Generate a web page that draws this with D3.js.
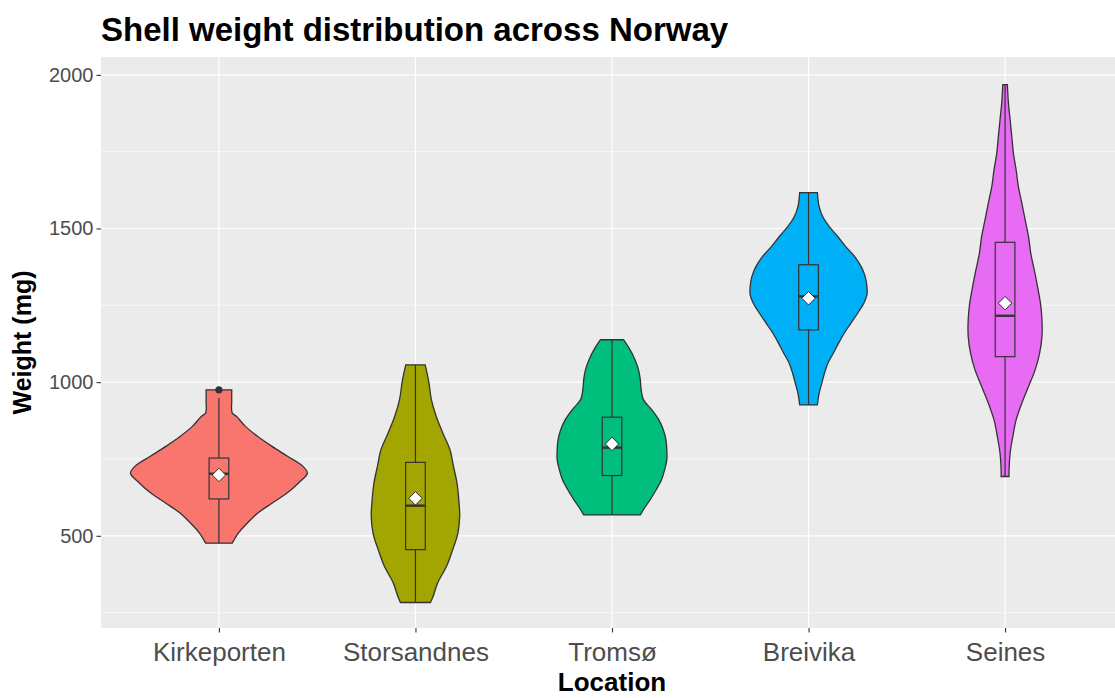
<!DOCTYPE html>
<html>
<head>
<meta charset="utf-8">
<script src="https://cdn.jsdelivr.net/npm/d3@7"></script>
<style>
  body { margin: 0; background: #fff; }
  text { font-family: "Liberation Sans", Arial, sans-serif; }
</style>
</head>
<body>
<script>
// categories + fill colours (ggplot default hue)
var locations = ["Kirkeporten", "Storsandnes", "Tromsø", "Breivika", "Seines"];
var fills = ["#F8766D", "#A3A500", "#00BF7D", "#00B0F6", "#E76BF3"];

// violin outlines: [weight, density relative to widest]
var kirkeportenDensity = [[476,0.15],[509,0.22],[541,0.32],[574,0.44],[606,0.60],[639,0.77],[672,0.90],[704,1.0],[726,0.95],[758,0.78],[791,0.60],[823,0.44],[856,0.30],[888,0.20],[900,0.15],[940,0.145],[975,0.145]];
var storsandnesDensity = [[283,0.17],[303,0.20],[346,0.25],[400,0.35],[454,0.42],[509,0.48],[563,0.50],[617,0.49],[671,0.47],[726,0.43],[780,0.39],[834,0.31],[888,0.235],[943,0.18],[1002,0.15],[1056,0.11]];
var tromsoDensity = [[568,0.32],[585,0.355],[617,0.43],[650,0.50],[682,0.56],[715,0.595],[747,0.62],[780,0.62],[812,0.61],[845,0.58],[877,0.53],[910,0.45],[943,0.355],[975,0.33],[1008,0.32],[1040,0.30],[1073,0.26],[1105,0.205],[1138,0.13]];
var breivikaDensity = [[926,0.10],[964,0.12],[997,0.15],[1029,0.18],[1062,0.22],[1094,0.28],[1127,0.34],[1160,0.405],[1192,0.48],[1225,0.557],[1257,0.625],[1284,0.66],[1311,0.66],[1344,0.64],[1376,0.595],[1409,0.52],[1441,0.42],[1474,0.33],[1506,0.235],[1539,0.16],[1571,0.12],[1617,0.10]];
var seinesDensity = [[693,0.045],[715,0.045],[769,0.057],[823,0.0875],[877,0.125],[932,0.19],[986,0.265],[1040,0.34],[1094,0.39],[1148,0.417],[1203,0.417],[1257,0.40],[1311,0.367],[1365,0.33],[1420,0.29],[1474,0.265],[1528,0.227],[1582,0.19],[1637,0.15],[1691,0.125],[1745,0.094],[1799,0.076],[1854,0.057],[1908,0.038],[1968,0.026]];

// boxplot stats: [lower whisker, q1, median, q3, upper whisker]
var boxStats = [
  [476, 620, 702, 753, 948],
  [283, 455, 598, 739, 1056],
  [568, 696, 787, 886, 1138],
  [926, 1170, 1279, 1382, 1617],
  [693, 1083, 1216, 1455, 1968]
];
var means = [698, 622, 799, 1273, 1257];
var outliers = [[0, 975]];   // [location index, weight]

var yTicks = [500, 1000, 1500, 2000];
var yMinor = [250, 750, 1250, 1750];
var yLimits = [200, 2058];

var densities = [kirkeportenDensity, storsandnesDensity, tromsoDensity, breivikaDensity, seinesDensity];

//canvas
var W = 1115, H = 698;
var panel = {left: 101, right: 1123, top: 57, bottom: 628};

var svg = d3.select("body").append("svg")
  .attr("width", W)
  .attr("height", H);

var x = d3.scalePoint()
  .domain(locations)
  .range([panel.left, panel.right])
  .padding(0.6);
var step = x.step();

var y = d3.scaleLinear()
  .domain(yLimits)
  .range([panel.bottom, panel.top]);

var halfWidth = d3.scaleLinear().domain([0, 1]).range([0, step * 0.45]);

// panel background + grid
svg.append("rect")
  .attr("x", panel.left).attr("y", panel.top)
  .attr("width", panel.right - panel.left)
  .attr("height", panel.bottom - panel.top)
  .attr("fill", "#EBEBEB");

svg.append("g").selectAll("line")
  .data(yMinor)
  .enter().append("line")
  .attr("x1", panel.left).attr("x2", panel.right)
  .attr("y1", d => y(d)).attr("y2", d => y(d))
  .attr("stroke", "#fff").attr("stroke-width", 0.6);

svg.append("g").selectAll("line")
  .data(yTicks)
  .enter().append("line")
  .attr("x1", panel.left).attr("x2", panel.right)
  .attr("y1", d => y(d)).attr("y2", d => y(d))
  .attr("stroke", "#fff").attr("stroke-width", 1.2);

svg.append("g").selectAll("line")
  .data(locations)
  .enter().append("line")
  .attr("x1", d => x(d)).attr("x2", d => x(d))
  .attr("y1", panel.top).attr("y2", panel.bottom)
  .attr("stroke", "#fff").attr("stroke-width", 1.2);

// violins
var area = d3.area()
  .curve(d3.curveCatmullRom.alpha(0.5))
  .y(d => y(d[0]));

var violins = svg.append("g");
densities.forEach(function (dens, i) {
  var cx = x(locations[i]);
  violins.append("path")
    .datum(dens)
    .attr("d", area.x0(d => cx - halfWidth(d[1])).x1(d => cx + halfWidth(d[1])))
    .attr("fill", fills[i])
    .attr("stroke", "#333333")
    .attr("stroke-width", 1.3);
});

// boxplots
var boxW = step * 0.1;
var boxes = svg.append("g").selectAll("g")
  .data(boxStats)
  .enter().append("g");

boxes.append("line")
  .attr("x1", (d, i) => x(locations[i])).attr("x2", (d, i) => x(locations[i]))
  .attr("y1", d => y(d[0])).attr("y2", d => y(d[4]))
  .attr("stroke", "#333333").attr("stroke-width", 1.2);

boxes.append("rect")
  .attr("x", (d, i) => x(locations[i]) - boxW / 2)
  .attr("width", boxW)
  .attr("y", d => y(d[3]))
  .attr("height", d => y(d[1]) - y(d[3]))
  .attr("fill", (d, i) => fills[i])
  .attr("stroke", "#333333").attr("stroke-width", 1.2);

boxes.append("line")
  .attr("x1", (d, i) => x(locations[i]) - boxW / 2)
  .attr("x2", (d, i) => x(locations[i]) + boxW / 2)
  .attr("y1", d => y(d[2])).attr("y2", d => y(d[2]))
  .attr("stroke", "#333333").attr("stroke-width", 2.4);

svg.append("g").selectAll("circle")
  .data(outliers)
  .enter().append("circle")
  .attr("cx", d => x(locations[d[0]]))
  .attr("cy", d => y(d[1]))
  .attr("r", 3.6)
  .attr("fill", "#333333");

// mean diamonds
var diamond = d3.symbol().type(d3.symbolSquare).size(90);
svg.append("g").selectAll("path")
  .data(means)
  .enter().append("path")
  .attr("d", diamond)
  .attr("transform", (d, i) => `translate(${x(locations[i])},${y(d)}) rotate(45)`)
  .attr("fill", "#fff")
  .attr("stroke", "#111").attr("stroke-width", 0.8);

// axes
var yAxis = svg.append("g")
  .attr("transform", `translate(${panel.left},0)`)
  .call(d3.axisLeft(y).tickValues(yTicks).tickFormat(d3.format("d")).tickSize(4.5).tickPadding(3));
var xAxis = svg.append("g")
  .attr("transform", `translate(0,${panel.bottom})`)
  .call(d3.axisBottom(x).tickSize(4.5).tickPadding(6));

[yAxis, xAxis].forEach(function (ax) {
  ax.select(".domain").remove();
  ax.selectAll(".tick line").attr("stroke", "#333333").attr("stroke-width", 1.1);
  ax.selectAll(".tick text").attr("fill", "#4D4D4D").style("font-family", "Liberation Sans, Arial, sans-serif");
});
yAxis.selectAll(".tick text").style("font-size", "20px");
xAxis.selectAll(".tick text").style("font-size", "26px").attr("dy", "0.85em");

// titles
svg.append("text")
  .attr("x", panel.left).attr("y", 41)
  .style("font-size", "33px").style("font-weight", "bold")
  .text("Shell weight distribution across Norway");

svg.append("text")
  .attr("x", (panel.left + panel.right) / 2).attr("y", 691)
  .attr("text-anchor", "middle")
  .style("font-size", "26px").style("font-weight", "bold")
  .text("Location");

svg.append("text")
  .attr("transform", `translate(31,${(panel.top + panel.bottom) / 2}) rotate(-90)`)
  .attr("text-anchor", "middle")
  .style("font-size", "25px").style("font-weight", "bold")
  .text("Weight (mg)");
</script>
</body>
</html>
